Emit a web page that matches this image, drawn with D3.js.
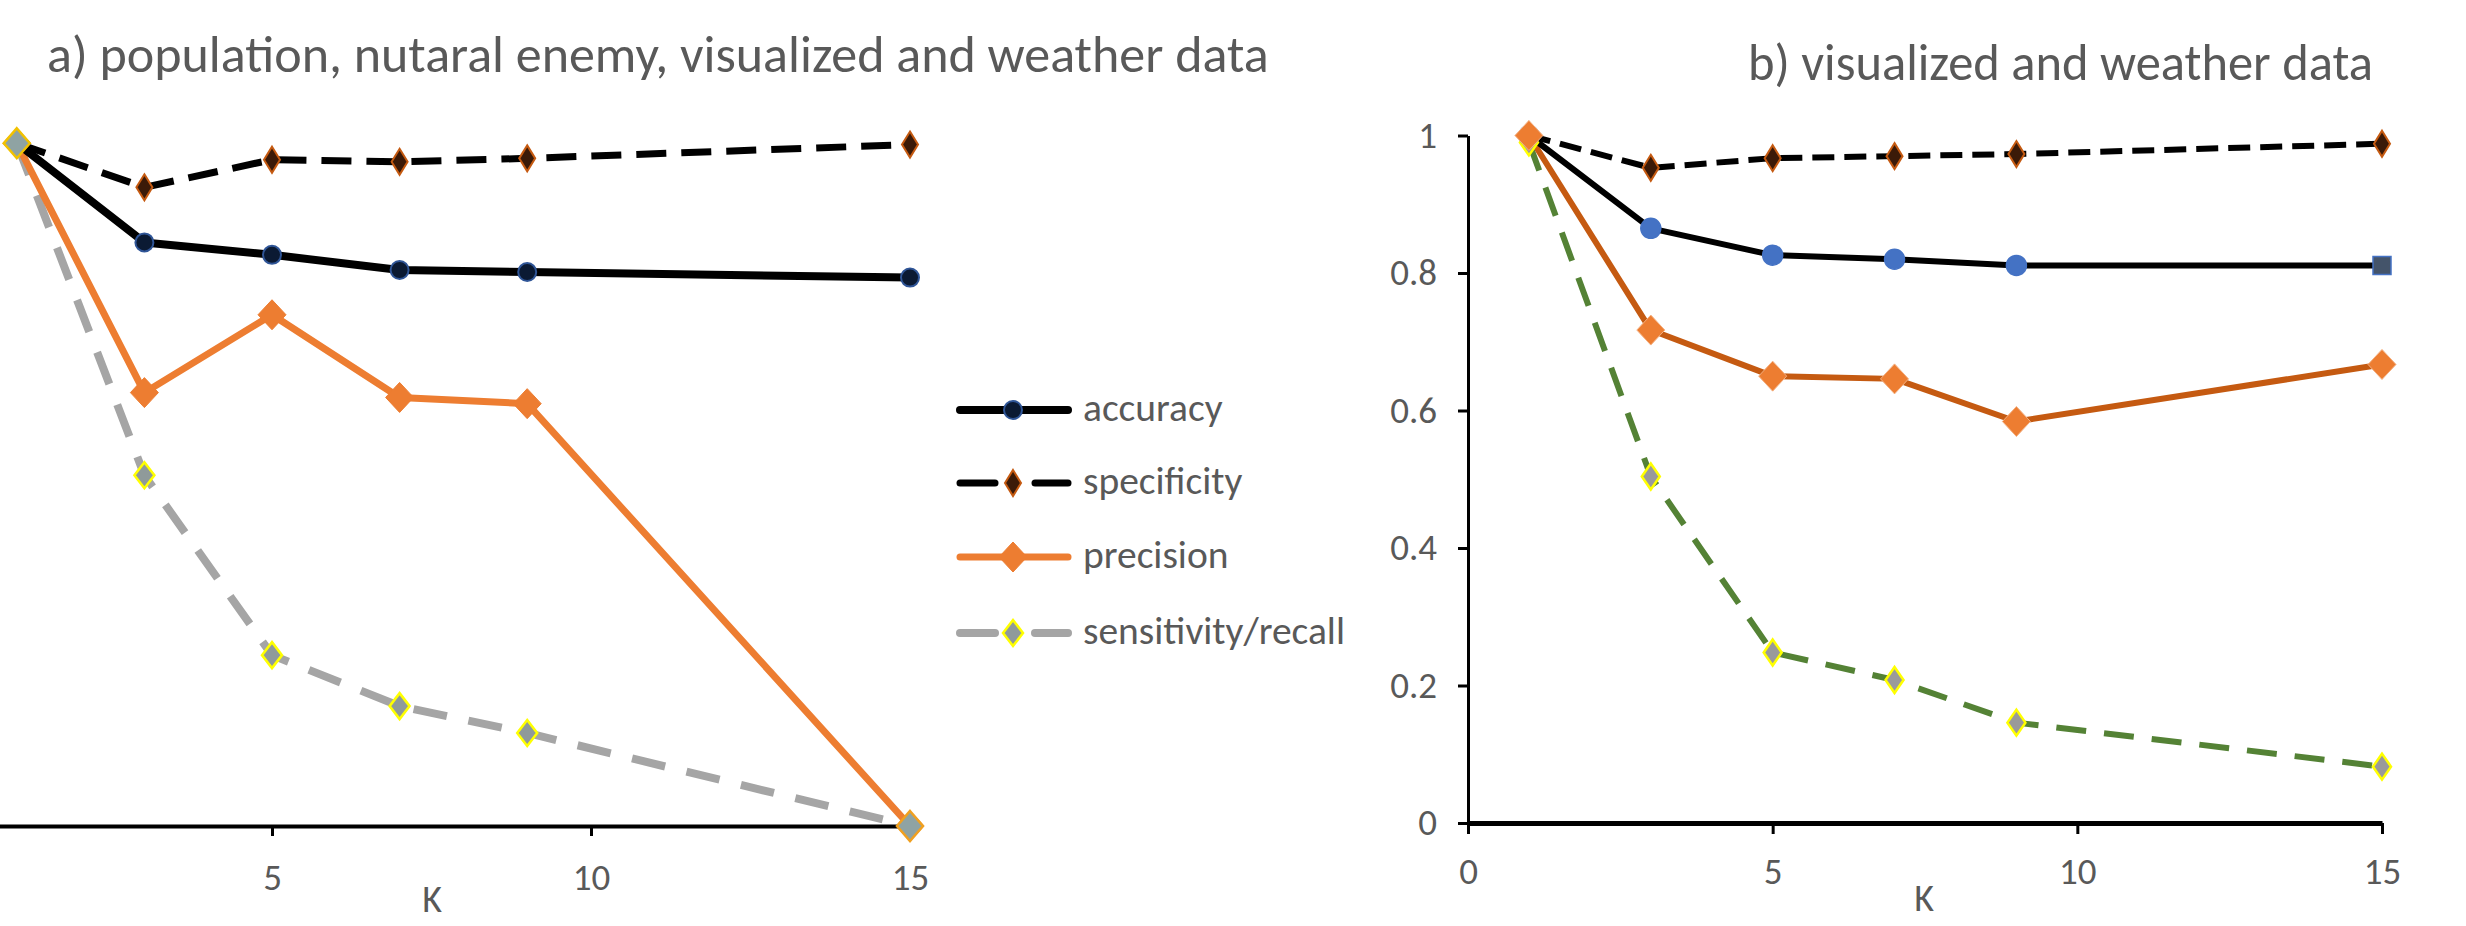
<!DOCTYPE html>
<html>
<head>
<meta charset="utf-8">
<script src="https://cdn.jsdelivr.net/npm/d3@7"></script>
<style>
  html, body { margin: 0; padding: 0; background: #ffffff; }
  svg { display: block; }
  text { font-family: Carlito, Calibri, "Open Sans", "Noto Sans", sans-serif; fill: #595959; }
</style>
</head>
<body>
<svg id="chart" width="2466" height="926"></svg>
<script>
// ---------------- data ----------------
const K = [1, 3, 5, 7, 9, 15];

// a) population, nutaral enemy, visualized and weather data
const accuracyA    = [0.991, 0.847, 0.829, 0.807, 0.804, 0.796];
const specificityA = [0.991, 0.927, 0.967, 0.964, 0.969, 0.989];
const precisionA   = [0.991, 0.629, 0.742, 0.622, 0.613, 0.000];
const sensitivityA = [0.991, 0.509, 0.248, 0.174, 0.135, 0.000];

// b) visualized and weather data
const accuracyB    = [1.000, 0.865, 0.826, 0.820, 0.811, 0.811];
const specificityB = [1.000, 0.953, 0.967, 0.970, 0.973, 0.988];
const precisionB   = [1.000, 0.717, 0.650, 0.646, 0.584, 0.667];
const sensitivityB = [0.990, 0.504, 0.248, 0.208, 0.146, 0.082];

const xTicksA = [5, 10, 15];
const xTicksB = [0, 5, 10, 15];
const yTicksB = [0, 0.2, 0.4, 0.6, 0.8, 1];
const titleA = "a) population, nutaral enemy, visualized and weather data";
const titleB = "b) visualized and weather data";
const xLabel = "K";
const seriesNames = ["accuracy", "specificity", "precision", "sensitivity/recall"];

// ---------------- layout ----------------
const svg = d3.select("#chart");
const textColor = "#595959";

const xA = d3.scaleLinear().domain([0, 15]).range([-47, 910]);
const yA = d3.scaleLinear().domain([0, 1]).range([826, 137]);
const xB = d3.scaleLinear().domain([0, 15]).range([1468, 2382]);
const yB = d3.scaleLinear().domain([0, 1]).range([823, 135.5]);

function diamond(w, h) {
  return `M0,${-h/2}L${w/2},0L0,${h/2}L${-w/2},0Z`;
}
function square(s) {
  return `M${-s/2},${-s/2}h${s}v${s}h${-s}Z`;
}
function circle(r) {
  return d3.symbol().type(d3.symbolCircle).size(Math.PI * r * r)();
}

function fitText(sel, targetWidth, baseSize) {
  sel.style("font-size", baseSize + "px");
  const w = sel.node().getComputedTextLength();
  sel.style("font-size", (baseSize * targetWidth / w).toFixed(2) + "px");
}

// ---------------- titles ----------------
const tA = svg.append("text").attr("x", 47).attr("y", 72).text(titleA);
fitText(tA, 1222, 42);
const tB = svg.append("text").attr("x", 1748).attr("y", 80).text(titleB);
fitText(tB, 625, 42);

// ---------------- axes ----------------
function styleAxis(g, width) {
  g.select(".domain").attr("stroke", "#000").attr("stroke-width", width);
  g.selectAll(".tick line").attr("stroke", "#000").attr("stroke-width", 3);
  g.selectAll(".tick text").attr("fill", textColor).style("font-size", "37px")
    .style("font-family", 'Carlito, Calibri, "Open Sans", sans-serif');
}

// left x axis
const gxA = svg.append("g").attr("transform", `translate(0,${yA(0)})`)
  .call(d3.axisBottom(xA).tickValues(xTicksA).tickSize(10).tickSizeOuter(0).tickPadding(28).tickFormat(d3.format("d")));
styleAxis(gxA, 4);

// right axes
const gxB = svg.append("g").attr("transform", `translate(0,${yB(0)})`)
  .call(d3.axisBottom(xB).tickValues(xTicksB).tickSize(11).tickSizeOuter(0).tickPadding(24).tickFormat(d3.format("d")));
styleAxis(gxB, 5);
const gyB = svg.append("g").attr("transform", `translate(${xB(0)},0)`)
  .call(d3.axisLeft(yB).tickValues(yTicksB).tickSize(10).tickSizeOuter(0).tickPadding(21).tickFormat(d => d === 0 || d === 1 ? String(d) : d.toFixed(1)));
styleAxis(gyB, 3);

svg.append("text").attr("x", 432).attr("y", 912).attr("text-anchor", "middle")
  .style("font-size", "38px").text(xLabel);
svg.append("text").attr("x", 1924).attr("y", 911).attr("text-anchor", "middle")
  .style("font-size", "38px").text(xLabel);

// ---------------- series ----------------
const stylesA = [
  { vals: accuracyA,    stroke: "#000000", width: 8, dash: null,
    marker: () => circle(9), mfill: "#0b1a33", mstroke: "#2f5597", msw: 2 },
  { vals: specificityA, stroke: "#000000", width: 7, dash: "30,15",
    marker: () => diamond(16, 26), mfill: "#3b1a08", mstroke: "#c55a11", msw: 2 },
  { vals: precisionA,   stroke: "#ED7D31", width: 7, dash: null,
    marker: () => diamond(28, 30), mfill: "#ED7D31", mstroke: "#ED7D31", msw: 1 },
  { vals: sensitivityA, stroke: "#A5A5A5", width: 8, dash: "34,22",
    marker: (i) => (i === 0 || i === K.length - 1) ? diamond(26, 30) : diamond(20, 26),
    mfill: (i) => (i === 0 || i === K.length - 1) ? "#8fa3a3" : "#8f9a9a",
    mstroke: (i) => i === 0 ? "#f2c200" : (i === K.length - 1 ? "#f0a020" : "#ffff00"), msw: 2.5 }
];
const stylesB = [
  { vals: accuracyB,    stroke: "#000000", width: 6, dash: null,
    marker: (i) => i === K.length - 1 ? square(18) : circle(10), mfill: (i) => i === K.length - 1 ? "#44546A" : "#4472C4", mstroke: "#4472C4", msw: 1.5 },
  { vals: specificityB, stroke: "#000000", width: 6, dash: "22,10",
    marker: () => diamond(16, 26), mfill: "#3b1a08", mstroke: "#c55a11", msw: 2 },
  { vals: precisionB,   stroke: "#C55A11", width: 6, dash: null,
    marker: () => diamond(28, 30), mfill: "#ED7D31", mstroke: "#F4B183", msw: 1 },
  { vals: sensitivityB, stroke: "#548235", width: 6, dash: "30,18",
    marker: () => diamond(18, 26), mfill: "#9a9a9a", mstroke: "#ffff00", msw: 2.5 }
];

const val = (v, i) => typeof v === "function" ? v(i) : v;

function drawPanel(styles, x, y, lineOrder, markerOrder) {
  const line = d3.line().x((d, i) => x(K[i])).y(d => y(d));
  lineOrder.forEach(si => {
    const s = styles[si];
    svg.append("path").datum(s.vals)
      .attr("d", line).attr("fill", "none")
      .attr("stroke", s.stroke).attr("stroke-width", s.width)
      .attr("stroke-linejoin", "round")
      .attr("stroke-dasharray", s.dash);
  });
  markerOrder.forEach(si => {
    const s = styles[si];
    svg.append("g").selectAll("path").data(s.vals).join("path")
      .attr("transform", (d, i) => `translate(${x(K[i])},${y(d)})`)
      .attr("d", (d, i) => s.marker(i))
      .attr("fill", (d, i) => val(s.mfill, i))
      .attr("stroke", (d, i) => val(s.mstroke, i)).attr("stroke-width", s.msw);
  });
}
drawPanel(stylesA, xA, yA, [3, 2, 0, 1], [2, 0, 1, 3]);
drawPanel(stylesB, xB, yB, [3, 2, 0, 1], [3, 0, 1, 2]);

// ---------------- legend ----------------
const legendY = [410, 483, 557, 633];
const legend = svg.append("g");
stylesA.forEach((s, i) => {
  const g = legend.append("g").attr("transform", `translate(0,${legendY[i]})`);
  const segs = s.dash ? [[960, 995], [1035, 1068]] : [[960, 1068]];
  segs.forEach(([a, b]) => {
    g.append("line").attr("x1", a).attr("x2", b).attr("y1", 0).attr("y2", 0)
      .attr("stroke", s.stroke).attr("stroke-width", s.width)
      .attr("stroke-linecap", "round");
  });
  g.append("path").attr("transform", "translate(1013,0)")
    .attr("d", i === 3 ? diamond(20, 26) : s.marker(1))
    .attr("fill", val(s.mfill, 1)).attr("stroke", val(s.mstroke, 1)).attr("stroke-width", s.msw);
  g.append("text").attr("x", 1083).attr("y", 11).text(seriesNames[i]);
});
const longest = legend.selectAll("text").filter((d, i, n) => d3.select(n[i]).text() === "sensitivity/recall");
fitText(longest, 262, 32);
legend.selectAll("text").style("font-size", longest.style("font-size"));
</script>
</body>
</html>
